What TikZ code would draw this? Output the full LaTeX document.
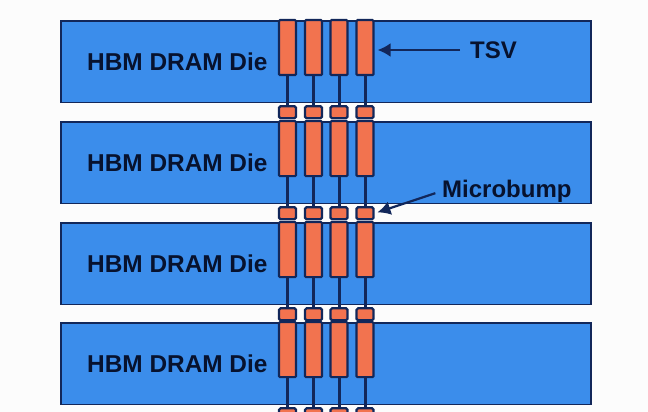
\documentclass[tikz,border=0pt]{standalone}
\usepackage{fontspec}
\setmainfont{Liberation Sans}
\usepackage{xcolor}
\usetikzlibrary{arrows.meta}
\usetikzlibrary{positioning}
\definecolor{dieblue}{HTML}{3B8DEB}
\definecolor{tsvorange}{HTML}{F2734F}
\definecolor{edgenavy}{HTML}{12275A}
\definecolor{textnavy}{HTML}{07122E}

\begin{document}
\begin{tikzpicture}[x=1pt,y=-1pt]
\tikzset{diebox/.style={rectangle,draw=edgenavy,fill=dieblue,line width=1.8pt,minimum width=530.2pt,minimum height=81.6pt,inner sep=0pt},
tsvbox/.style={rectangle,draw=edgenavy,fill=tsvorange,line width=2.2pt,rounded corners=1pt,minimum width=17pt,minimum height=55pt,inner sep=0pt},
bumpbox/.style={rectangle,draw=edgenavy,fill=tsvorange,line width=2.2pt,rounded corners=1.5pt,minimum width=17pt,minimum height=12pt,inner sep=0pt},
wirelink/.style={draw=edgenavy,line width=3pt},
dielabel/.style={font=\fontsize{24.4}{24}\selectfont\bfseries,text=textnavy,inner sep=0pt},
pointlabel/.style={font=\fontsize{24}{24}\selectfont\bfseries,text=textnavy,inner sep=0pt},
pointer/.style={draw=edgenavy,line width=2.2pt,-{Latex[length=13pt,width=14pt]}}}
\clip (0,0) rectangle (648,412);
\fill[white!99!black] (0,0) rectangle (648,412);
\foreach \row/\ytop in {1/20,2/121,3/222,4/322}{
  \node[diebox,anchor=north west](die\row) at (60,\ytop) {};
  \node[dielabel,anchor=west] at (87,\ytop+42) {HBM DRAM Die};
  \foreach \col/\xmid in {1/287.5,2/313.5,3/339,4/365}{
    \node[tsvbox,anchor=north](tsv\row\col) at (\xmid,\ytop-1) {};
    \node[bumpbox,below=29pt of tsv\row\col](bump\row\col) {};
    \draw[wirelink](tsv\row\col.south) -- (bump\row\col.north);
  }
}
\node[pointlabel,anchor=west](tsvtext) at (470,50) {TSV};
\node[pointlabel,anchor=west](bumptext) at (442,191) {Microbump};
\draw[pointer,shorten <=10pt,shorten >=3pt](tsvtext.west) -- (tsv14.east |- tsvtext.west);
\draw[pointer,shorten <=7pt,shorten >=3pt](bumptext.west) -- (bump24.east);
\end{tikzpicture}
\end{document}
